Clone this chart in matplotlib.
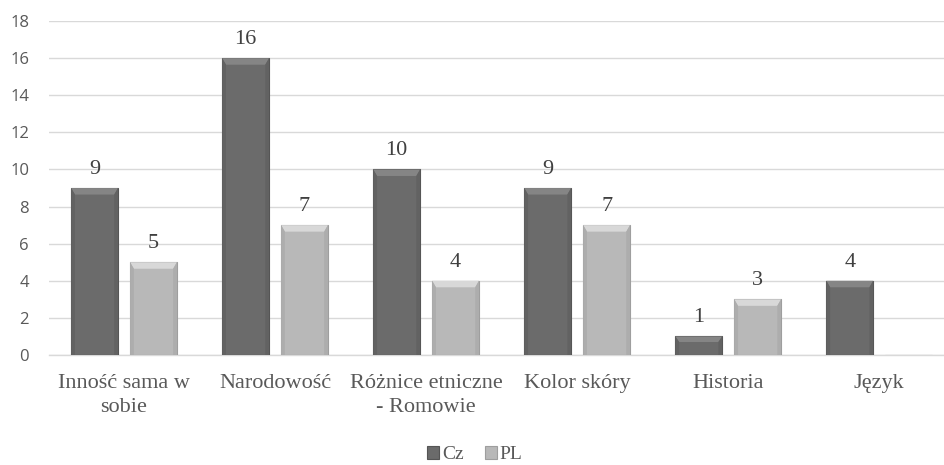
import matplotlib
matplotlib.use("Agg")
import matplotlib.pyplot as plt
import numpy as np
from matplotlib.patches import Polygon

categories = ["Inność sama w\nsobie", "Narodowość", "Różnice etniczne\n- Romowie",
              "Kolor skóry", "Historia", "Język"]
cz = [9, 16, 10, 9, 1, 4]
pl = [5, 7, 4, 7, 3, None]
yticks = [0, 2, 4, 6, 8, 10, 12, 14, 16, 18]

serif = ["Liberation Serif", "DejaVu Serif"]
sans = ["Open Sans", "DejaVu Sans"]
text_grey = "#595959"

fig = plt.figure(figsize=(9.44, 4.65), dpi=100)
ax = fig.add_axes([0.0514, 0.2366, 0.96, 0.718])

x = np.arange(len(categories))
w = 0.31
gap = 0.08


def bevel(bars, top, side):
    for b in bars:
        bx, by = b.get_x(), b.get_y()
        bw, bh = b.get_width(), b.get_height()
        if bh <= 0:
            continue
        # small highlighted top bevel, in data coords
        d = 0.025
        dh = min(0.35, bh * 0.3)
        ax.add_patch(Polygon([(bx, bh), (bx + bw, bh), (bx + bw - d, bh - dh), (bx + d, bh - dh)],
                             closed=True, facecolor=top, edgecolor="none", zorder=4))
        ax.add_patch(Polygon([(bx, by), (bx, bh), (bx + d, bh - dh), (bx + d, by)],
                             closed=True, facecolor=side, edgecolor="none", zorder=4))
        ax.add_patch(Polygon([(bx + bw, by), (bx + bw, bh), (bx + bw - d, bh - dh), (bx + bw - d, by)],
                             closed=True, facecolor=side, edgecolor="none", zorder=4))


cz_x = x - gap / 2 - w / 2
pl_vals = [v if v is not None else 0 for v in pl]
pl_x = x + gap / 2 + w / 2

bars_cz = ax.bar(cz_x, cz, width=w, color="#6b6b6b", edgecolor="#555555", linewidth=0.8,
                 label="Cz", zorder=3)
bars_pl = ax.bar(pl_x, pl_vals, width=w, color="#b8b8b8", edgecolor="#9e9e9e", linewidth=0.8,
                 label="PL", zorder=3)
bevel(bars_cz, "#858585", "#626262")
bevel(bars_pl, "#d8d8d8", "#adadad")

for xi, v in zip(cz_x, cz):
    ax.text(xi, v + 0.5, str(v), ha="center", va="bottom", fontsize=16,
            family=serif, color="#404040")
for xi, v in zip(pl_x, pl):
    if v is None:
        continue
    ax.text(xi, v + 0.5, str(v), ha="center", va="bottom", fontsize=16,
            family=serif, color="#404040")

ax.set_xlim(-0.5, len(categories) - 0.5)
ax.set_ylim(0, 18)
ax.set_yticks(yticks)
ax.yaxis.grid(True, color="#d9d9d9", linewidth=1)
ax.set_axisbelow(True)
for s in ["top", "right", "left"]:
    ax.spines[s].set_visible(False)
ax.spines["bottom"].set_color("#d9d9d9")
ax.spines["bottom"].set_linewidth(1)
ax.tick_params(axis="y", length=0, pad=14, labelsize=12, labelcolor=text_grey)
ax.tick_params(axis="x", length=0, pad=14)
for t in ax.get_yticklabels():
    t.set_family(sans)
ax.set_xticks(x)
ax.set_xticklabels(categories, fontsize=16, family=serif, color=text_grey, linespacing=1.3)

leg = fig.legend(handles=[bars_cz, bars_pl], labels=["Cz", "PL"], loc="center",
                 bbox_to_anchor=(0.503, 0.022), ncol=2, frameon=False,
                 prop={"family": serif, "size": 14}, handlelength=0.6, handleheight=0.6,
                 handletextpad=0.15, columnspacing=1.1, borderpad=0.1)
for t in leg.get_texts():
    t.set_color(text_grey)

fig.savefig("out.png", dpi=100)
